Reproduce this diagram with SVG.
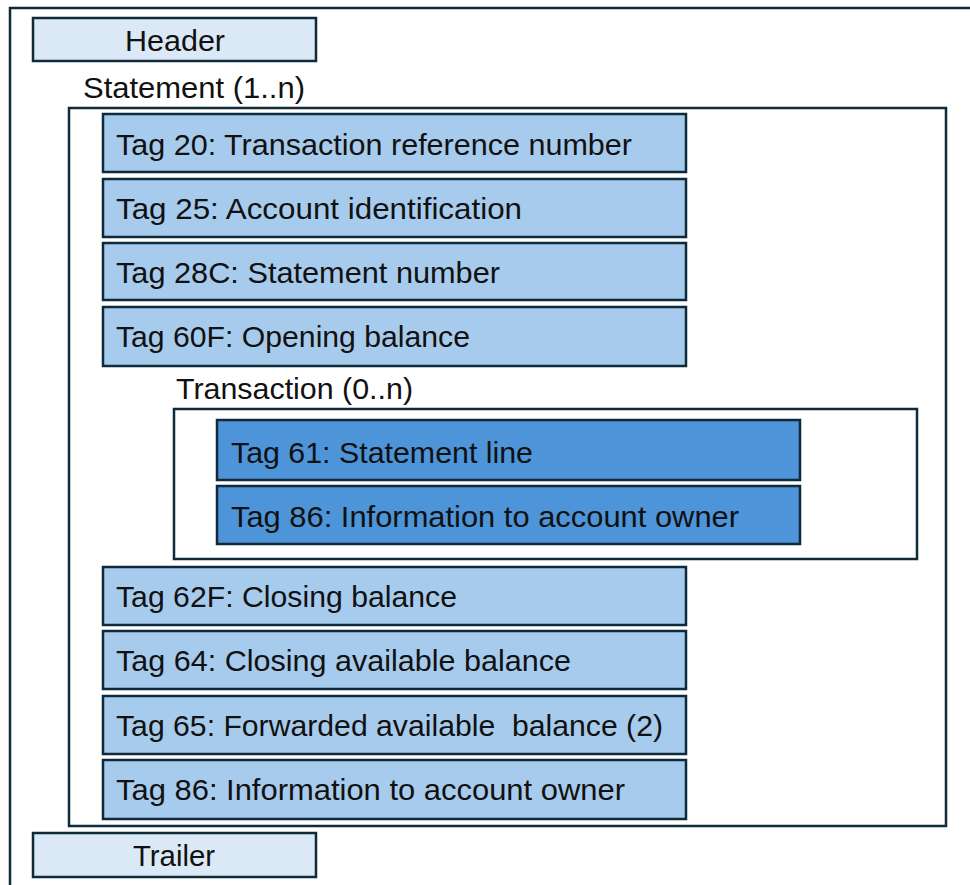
<svg xmlns="http://www.w3.org/2000/svg" width="970" height="885" viewBox="0 0 970 885">
<style>
.frame{fill:#ffffff;stroke:#0f2a3b;stroke-width:2.5}
.hdr{fill:#dbe8f5;stroke:#0f2a3b;stroke-width:2.5}
.tag{fill:#a7cbec;stroke:#0f2a3b;stroke-width:2.5}
.tx{fill:#4e94d8;stroke:#0f2a3b;stroke-width:2.5}
text{font-family:"Liberation Sans","Open Sans",Arial,sans-serif;font-size:30px;fill:#111}
</style>
<g id="outer"><rect class="frame" x="10" y="8" width="975" height="900"/></g>
<g id="header"><rect class="hdr" x="33" y="18" width="283" height="43"/><text x="125" y="51" textLength="100" lengthAdjust="spacingAndGlyphs">Header</text></g>
<g id="statement">
<text x="83" y="98" textLength="222" lengthAdjust="spacingAndGlyphs">Statement (1..n)</text>
<rect class="frame" x="69" y="108" width="877" height="718"/>
</g>
<g id="tag20"><rect class="tag" x="103" y="114" width="583" height="58"/><text x="116" y="155" textLength="516" lengthAdjust="spacingAndGlyphs">Tag 20: Transaction reference number</text></g>
<g id="tag25"><rect class="tag" x="103" y="179" width="583" height="58"/><text x="116" y="219" textLength="406" lengthAdjust="spacingAndGlyphs">Tag 25: Account identification</text></g>
<g id="tag28c"><rect class="tag" x="103" y="243" width="583" height="57"/><text x="116" y="283" textLength="384" lengthAdjust="spacingAndGlyphs">Tag 28C: Statement number</text></g>
<g id="tag60f"><rect class="tag" x="103" y="307" width="583" height="59"/><text x="116" y="347" textLength="354" lengthAdjust="spacingAndGlyphs">Tag 60F: Opening balance</text></g>
<g id="transaction">
<text x="176" y="399" textLength="237" lengthAdjust="spacingAndGlyphs">Transaction (0..n)</text>
<rect class="frame" x="174" y="409" width="743" height="150"/>
</g>
<g id="tag61"><rect class="tx" x="217" y="420" width="583" height="60"/><text x="231" y="463" textLength="302" lengthAdjust="spacingAndGlyphs">Tag 61: Statement line</text></g>
<g id="tag86tx"><rect class="tx" x="217" y="486" width="583" height="58"/><text x="231" y="527" textLength="508" lengthAdjust="spacingAndGlyphs">Tag 86: Information to account owner</text></g>
<g id="tag62f"><rect class="tag" x="103" y="567" width="583" height="58"/><text x="116" y="607" textLength="341" lengthAdjust="spacingAndGlyphs">Tag 62F: Closing balance</text></g>
<g id="tag64"><rect class="tag" x="103" y="631" width="583" height="58"/><text x="116" y="671" textLength="455" lengthAdjust="spacingAndGlyphs">Tag 64: Closing available balance</text></g>
<g id="tag65"><rect class="tag" x="103" y="696" width="583" height="58"/><text x="116" y="736" textLength="547" lengthAdjust="spacingAndGlyphs" xml:space="preserve">Tag 65: Forwarded available  balance (2)</text></g>
<g id="tag86"><rect class="tag" x="103" y="760" width="583" height="59"/><text x="116" y="800" textLength="509" lengthAdjust="spacingAndGlyphs">Tag 86: Information to account owner</text></g>
<g id="trailer"><rect class="hdr" x="33" y="833" width="283" height="44"/><text x="133" y="866" textLength="82" lengthAdjust="spacingAndGlyphs">Trailer</text></g>
<g id="connectors"></g>
</svg>
